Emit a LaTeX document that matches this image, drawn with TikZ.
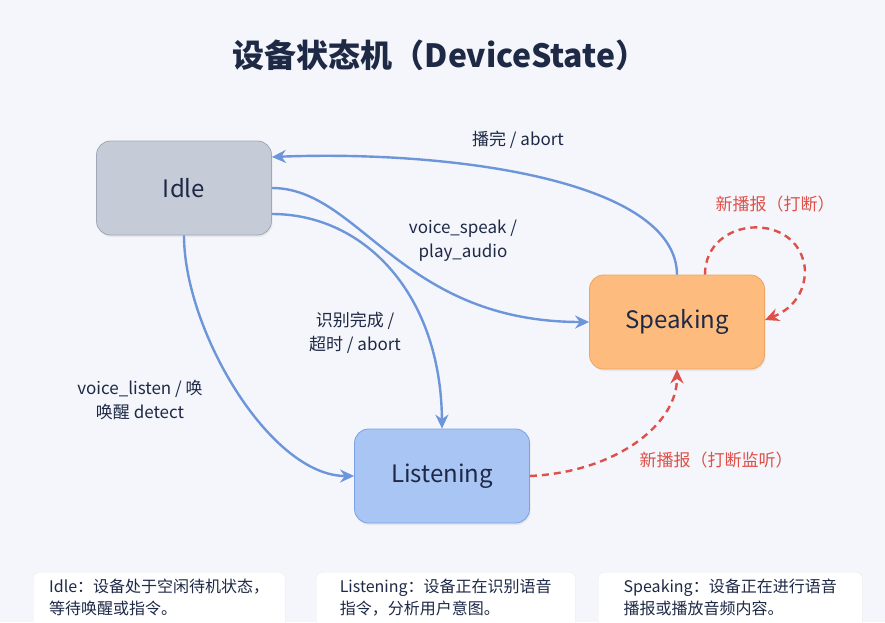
\documentclass[tikz,border=0pt]{standalone}
\usepackage{fontspec}
\setmainfont{Noto Sans CJK SC}
\usetikzlibrary{arrows.meta,shadows}
\definecolor{paper}{HTML}{F4F6FB}
\definecolor{ink}{HTML}{1E2946}
\definecolor{flowblue}{HTML}{6D95DA}
\definecolor{jumpred}{HTML}{DF5048}
\definecolor{idlefill}{HTML}{C6CCD7}
\definecolor{idleline}{HTML}{A0A8B6}
\definecolor{speakfill}{HTML}{FDBB7E}
\definecolor{speakline}{HTML}{EFA45C}
\definecolor{listenfill}{HTML}{A9C5F3}
\definecolor{listenline}{HTML}{7BA1E4}

\begin{document}
\begin{tikzpicture}[x=1pt,y=-1pt,
  state/.style={draw, rounded corners=14pt, minimum width=175pt, minimum height=94pt,
    line width=0.8pt, text=ink, font=\fontsize{24}{26}\selectfont,
    drop shadow={opacity=0.12, shadow xshift=1pt, shadow yshift=-2pt}},
  flow/.style={draw=flowblue, line width=2.4pt, -{Stealth[length=14pt,width=13pt]}},
  jump/.style={draw=jumpred, line width=2.4pt, dash pattern=on 7pt off 5pt,
    -{Stealth[length=14pt,width=13pt]}},
  lbl/.style={text=ink, font=\fontsize{17}{24}\selectfont, align=center},
  redlbl/.style={text=jumpred, font=\fontsize{17}{24}\selectfont},
  note/.style={draw=black!8, fill=white, rounded corners=6pt, anchor=north west,
    text=ink, align=left, inner xsep=12pt, inner ysep=7pt, text depth=30pt,
    font=\fontsize{16}{22}\selectfont}]
  \useasboundingbox (0,0) rectangle (885,622);
  \clip (0,0) rectangle (885,622);
  \fill[paper] (0,0) rectangle (885,622);

  \node[text=ink, font=\bfseries\fontsize{32}{36}\selectfont] (title) at (440,55) {设备状态机（DeviceState）};

  \node[state, fill=idlefill, draw=idleline] (idle) at (184,188) {Idle};
  \node[state, fill=speakfill, draw=speakline] (speak) at (677,322) {Speaking};
  \node[state, fill=listenfill, draw=listenline] (listen) at (442,476) {Listening};

  \coordinate (idlehi) at ([yshift=31pt]idle.east);
  \coordinate (idlelo) at ([yshift=-26pt]idle.east);
  \coordinate (loopout) at ([xshift=28pt]speak.north);
  \coordinate (loopin) at ([yshift=2pt]speak.east);

  \draw[flow] (speak.north) .. controls (676,180) and (450,150) .. (idlehi);
  \draw[flow] (idle.east) .. controls (360,188) and (400,322) .. (speak.west);
  \draw[flow] (idlelo) .. controls (365,214) and (441,295) .. (listen.north);
  \draw[flow] (idle.south) .. controls (184,330) and (270,476) .. (listen.west);
  \draw[jump] (loopout) .. controls (705,215) and (800,210) .. (805,270)
    .. controls (805,295) and (790,310) .. (loopin);
  \draw[jump] (listen.east) .. controls (615,472) and (677,425) .. (speak.south);

  \node[lbl] (donelbl) at (518,140) {播完 / abort};
  \node[lbl] (speaklbl) at (463,241) {voice\_speak /\\play\_audio};
  \node[lbl] (recoglbl) at (355,333) {识别完成 /\\超时 / abort};
  \node[lbl] (wakelbl) at (140,400) {voice\_listen / 唤\\唤醒 detect};
  \node[redlbl] (looplbl) at (775,204) {新播报（打断）};
  \node[redlbl] (cutlbl) at (716,460) {新播报（打断监听）};

  \node[note, minimum width=252pt] (idlenote) at (33,572) {Idle：设备处于空闲待机状态，\\等待唤醒或指令。};
  \node[note, minimum width=259pt] (listennote) at (316,572) {Listening：设备正在识别语音\\指令，分析用户意图。};
  \node[note, minimum width=264pt] (speaknote) at (598,572) {Speaking：设备正在进行语音\\播报或播放音频内容。};
\end{tikzpicture}
\end{document}
